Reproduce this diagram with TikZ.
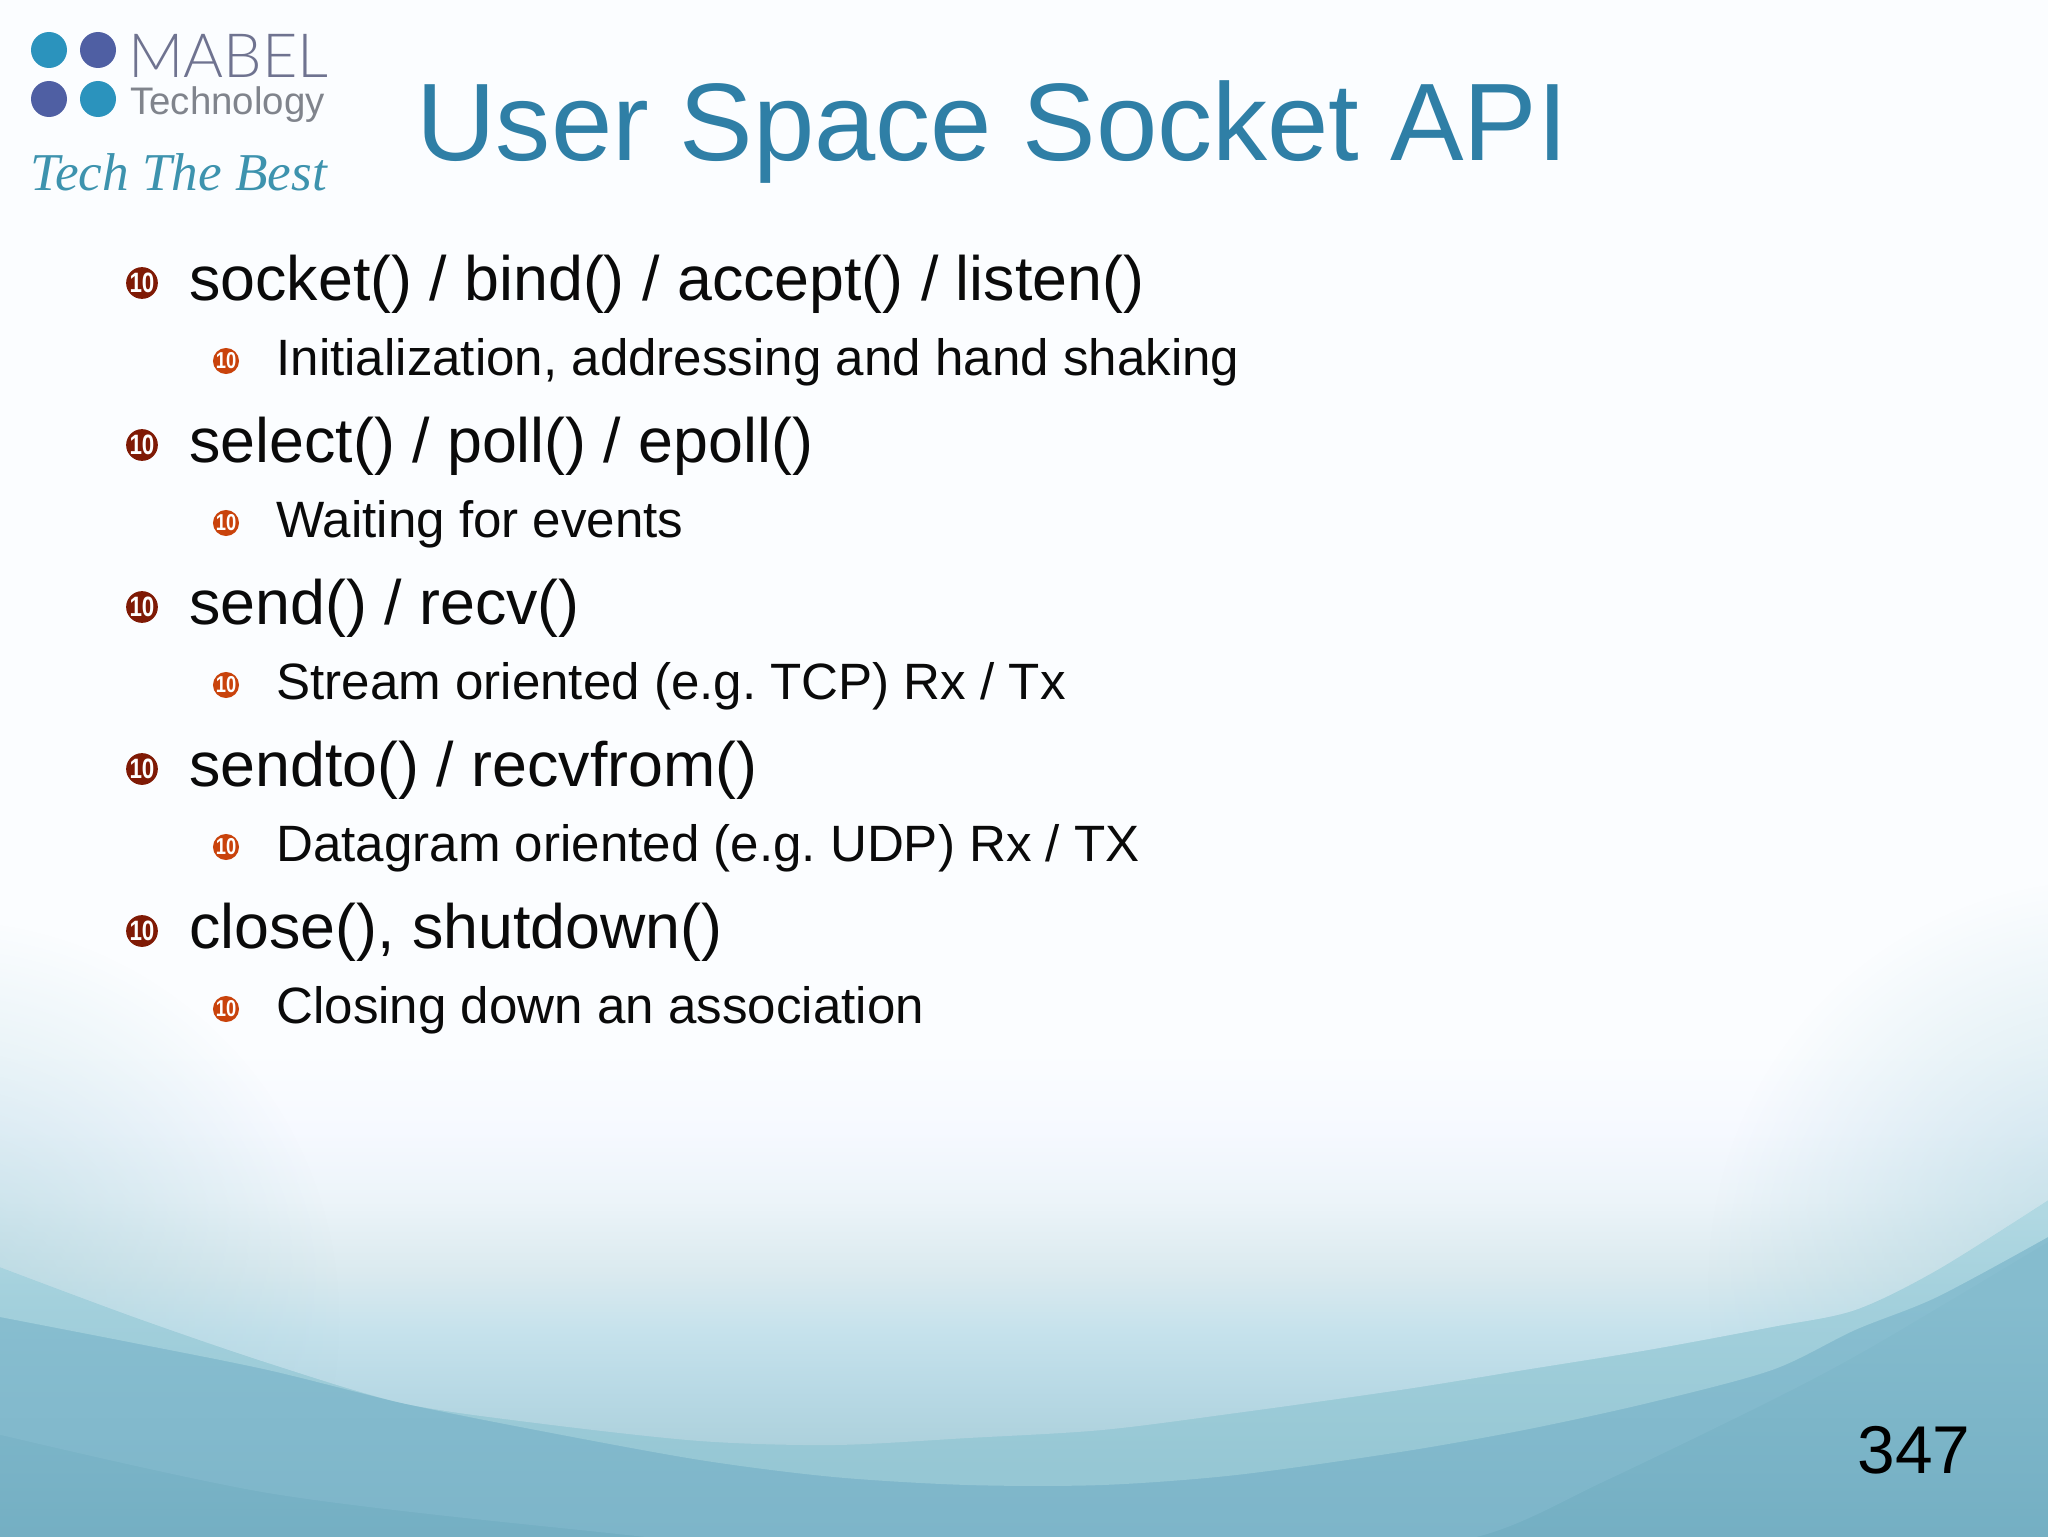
\documentclass[tikz,border=0pt]{standalone}
\usepackage{fontspec}
\usetikzlibrary{fadings}
\setmainfont{Liberation Sans}
\newfontfamily\thinfont{Lato Light}
\newfontfamily\tagfont{Liberation Serif}
\AtBeginDocument{\frenchspacing}
\definecolor{titleblue}{HTML}{2F7FA6}
\definecolor{bulletA}{HTML}{7F1A05}
\definecolor{bulletB}{HTML}{C9430C}
\definecolor{dotteal}{HTML}{2B93BD}
\definecolor{dotblue}{HTML}{4F5FA3}
\definecolor{logogrey}{HTML}{6F7390}
\definecolor{logogreyb}{HTML}{80848C}
\definecolor{logoteal}{HTML}{3D93AE}
\definecolor{textblack}{HTML}{0A0A0A}
\definecolor{ca}{HTML}{74AFC3}
\definecolor{cb}{HTML}{85BCCE}
\definecolor{ta}{HTML}{7DB5C9}
\definecolor{tb}{HTML}{88BED0}
\definecolor{oa}{HTML}{96C7D4}
\definecolor{ob}{HTML}{A3D0DC}
\definecolor{oc}{HTML}{B0D8E2}
\definecolor{ia}{HTML}{ADD1DC}
\definecolor{ib}{HTML}{B8D9E5}
\definecolor{ic}{HTML}{C6E2EC}
\definecolor{id}{HTML}{DBEAEF}
\definecolor{ie}{HTML}{ECF4F9}
\definecolor{if}{HTML}{F6F9FF}
\definecolor{ig}{HTML}{FBFDFF}
\definecolor{sidetint}{HTML}{9CCBD8}
\pgfdeclareverticalshading{bgbase}{100bp}{color(0bp)=(ca);color(25bp)=(ca);color(32.7bp)=(cb);color(100bp)=(cb)}
\pgfdeclareverticalshading{bgthird}{100bp}{color(0bp)=(ta);color(25bp)=(ta);color(32.7bp)=(tb);color(100bp)=(tb)}
\pgfdeclareverticalshading{bgouter}{100bp}{color(0bp)=(oa);color(27.2bp)=(oa);color(32.7bp)=(ob);color(35.5bp)=(oc);color(100bp)=(oc)}
\pgfdeclareverticalshading{bginner}{100bp}{color(0bp)=(ia);color(27.96bp)=(ia);color(29.75bp)=(ib);color(31.7bp)=(ic);color(33.66bp)=(id);color(35.94bp)=(ie);color(38.2bp)=(if);color(40.8bp)=(ig);color(100bp)=(ig)}
\tikzfading[name=sideglow,inner color=transparent!45,outer color=transparent!100]
\tikzset{
  x=0.5pt,y=-0.5pt,
  titletext/.style={anchor=base west,inner sep=0pt,text=titleblue,font=\fontsize{55.1}{60}\selectfont},
  leveltwo/.style={anchor=base west,inner sep=0pt,text=textblack,font=\fontsize{25.55}{30}\selectfont},
  levelone/.style={anchor=base west,inner sep=0pt,text=textblack,font=\fontsize{31.35}{36}\selectfont},
  bulletone/.style={circle,inner sep=0pt,minimum size=15.8pt,fill=bulletA,text=white,font=\bfseries\fontsize{14}{14}\selectfont},
  bullettwo/.style={circle,inner sep=0pt,minimum size=13pt,fill=bulletB,text=white,font=\bfseries\fontsize{11.5}{12}\selectfont},
  logodot/.style={circle,inner sep=0pt,minimum size=18pt},
}
\newcommand{\tennum}{\scalebox{0.8}[1]{10}}
\begin{document}
\begin{tikzpicture}
\useasboundingbox (0,0) rectangle (2048,1536);
\shade[shading=bgbase] (0,0) rectangle (2048,1536);
\begin{scope}
\clip plot[smooth] coordinates {(-20,1430) (268,1493) (580,1530) (800,1548) (1300,1560) (1480,1536) (1607,1480) (1772,1400) (1875,1345) (2068,1230)} -- (2068,-20) -- (-20,-20) -- cycle;
\shade[shading=bgthird] (0,0) rectangle (2048,1536);
\end{scope}
\begin{scope}
\clip plot[smooth] coordinates {(0,1317) (134,1343) (268,1370) (402,1403) (536,1430) (700,1460) (834,1477) (968,1485) (1102,1485) (1236,1475) (1400,1452) (1524,1430) (1648,1403) (1772,1370) (1855,1330) (1937,1297) (2048,1237)} -- (2048,0) -- (0,0) -- cycle;
\shade[shading=bgouter] (0,0) rectangle (2048,1536);
\end{scope}
\begin{scope}
\clip plot[smooth] coordinates {(0,1267) (134,1317) (268,1363) (402,1403) (536,1423) (700,1441) (834,1445) (968,1438) (1102,1430) (1236,1413) (1400,1390) (1524,1370) (1648,1350) (1772,1327) (1855,1310) (1937,1270) (2048,1200)} -- (2048,0) -- (0,0) -- cycle;
\shade[shading=bginner] (0,0) rectangle (2048,1536);
\fill[sidetint,path fading=sideglow] (-60,1320) circle (400);
\fill[sidetint,path fading=sideglow] (2108,1280) circle (400);
\end{scope}
% logo
\node[logodot,fill=dotteal] (d1) at (49,50) {};
\node[logodot,fill=dotblue] (d2) at (98,50) {};
\node[logodot,fill=dotblue] (d3) at (49,99) {};
\node[logodot,fill=dotteal] (d4) at (98,99) {};
\node[anchor=base west,inner sep=0pt,text=logogrey,font=\thinfont\fontsize{30.5}{32}\selectfont] (mabel) at (128,78) {MABEL};
\node[anchor=base west,inner sep=0pt,text=logogreyb,font=\fontsize{19.2}{20}\selectfont] (tech) at (130,114) {Technology};
\node[anchor=base west,inner sep=0pt,text=logoteal,font=\tagfont\itshape\fontsize{26.6}{30}\selectfont] (best) at (30,190) {Tech The Best};
% title
\node[titletext] (title) at (416,160) {User Space Socket API};
% items
\node[bulletone] (b1) at (142,283) {\tennum};
\node[levelone] (t1) at (189,300) {socket() / bind() / accept() / listen()};
\node[bullettwo] (s1) at (226,361) {\tennum};
\node[leveltwo] (u1) at (276,375.5) {Initialization, addressing and hand shaking};
\node[bulletone] (b2) at (142,445) {\tennum};
\node[levelone] (t2) at (189,462) {select() / poll() / epoll()};
\node[bullettwo] (s2) at (226,523) {\tennum};
\node[leveltwo] (u2) at (276,537.5) {Waiting for events};
\node[bulletone] (b3) at (142,607) {\tennum};
\node[levelone] (t3) at (189,624) {send() / recv()};
\node[bullettwo] (s3) at (226,685) {\tennum};
\node[leveltwo] (u3) at (276,699.5) {Stream oriented (e.g. TCP) Rx / Tx};
\node[bulletone] (b4) at (142,769) {\tennum};
\node[levelone] (t4) at (189,786) {sendto() / recvfrom()};
\node[bullettwo] (s4) at (226,847) {\tennum};
\node[leveltwo] (u4) at (276,861.5) {Datagram oriented (e.g. UDP) Rx / TX};
\node[bulletone] (b5) at (142,931) {\tennum};
\node[levelone] (t5) at (189,948) {close(), shutdown()};
\node[bullettwo] (s5) at (226,1009) {\tennum};
\node[leveltwo] (u5) at (276,1023.5) {Closing down an association};
\node[anchor=base west,inner sep=0pt,text=black,font=\fontsize{33.8}{36}\selectfont] (pageno) at (1857,1473) {347};
\end{tikzpicture}
\end{document}
